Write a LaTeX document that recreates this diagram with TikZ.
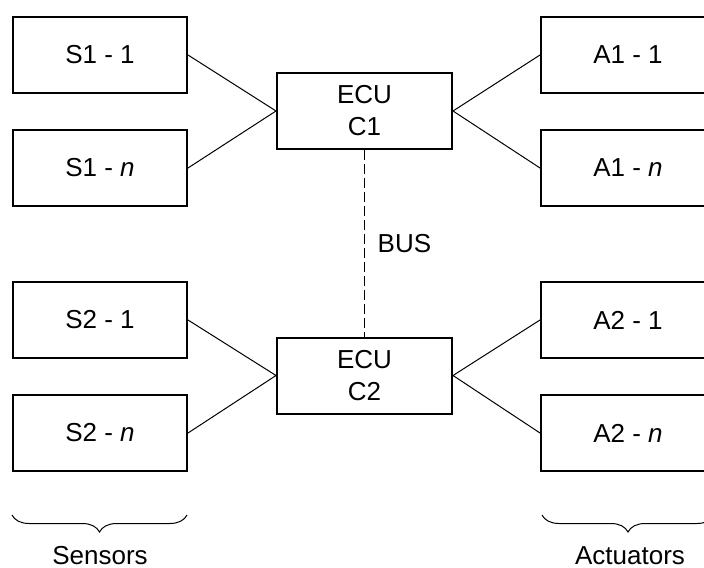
\documentclass[tikz,border=0pt]{standalone}
\usepackage{fontspec}
\setmainfont{Liberation Sans}
\usepackage{tikz}
\usetikzlibrary{positioning,decorations.pathreplacing}
\tikzstyle{unit} = [draw, line width=1pt, minimum width=87pt, minimum height=38pt, inner sep=0pt, align=center, font=\fontsize{13}{16}\selectfont]
\tikzstyle{wire} = [draw, line width=0.5pt]
\tikzstyle{bus} = [draw, line width=0.5pt, dash pattern=on 5pt off 2pt]
\tikzstyle{group} = [draw, line width=0.5pt, decorate, decoration={brace, mirror, amplitude=8.5pt}]
\tikzstyle{caption} = [anchor=base, inner sep=0pt, font=\fontsize{13}{16}\selectfont]

\begin{document}
\begin{tikzpicture}[x=0.5pt, y=0.5pt]
  \clip (0,0) rectangle (704,567);
  % sensors
  \node[unit] (s11) at (100,512) {S1 - 1};
  \node[unit] (s1n) at (100,399) {S1 - \textit{n}};
  \node[unit] (s21) at (100,247) {S2 - 1};
  \node[unit] (s2n) at (100,134) {S2 - \textit{n}};
  % actuators
  \node[unit] (a11) at (628,512) {A1 - 1};
  \node[unit] (a1n) at (628,399) {A1 - \textit{n}};
  \node[unit] (a21) at (628,247) {A2 - 1};
  \node[unit] (a2n) at (628,134) {A2 - \textit{n}};
  % control units
  \node[unit, minimum width=87.5pt] (c1) at (364.5,456) {ECU\\C1};
  \node[unit, minimum width=87.5pt] (c2) at (364.5,191.5) {ECU\\C2};
  \draw[wire] (s11.east) -- (c1.west) -- (s1n.east);
  \draw[wire] (a11.west) -- (c1.east) -- (a1n.west);
  \draw[wire] (s21.east) -- (c2.west) -- (s2n.east);
  \draw[wire] (a21.west) -- (c2.east) -- (a2n.west);
  \draw[bus] (c1.south) -- node[right=3pt, font=\fontsize{13}{16}\selectfont] (busl) {BUS} (c2.north);
  % groups
  \coordinate (sl) at (12,52);
  \coordinate (sr) at (187,52);
  \coordinate (al) at (542,52);
  \coordinate (ar) at (714,52);
  \draw[group] (sl) -- (sr);
  \draw[group] (al) -- (ar);
  \node[caption] (sens) at (100,3) {Sensors};
  \node[caption] (act) at (630,3) {Actuators};
\end{tikzpicture}
\end{document}
